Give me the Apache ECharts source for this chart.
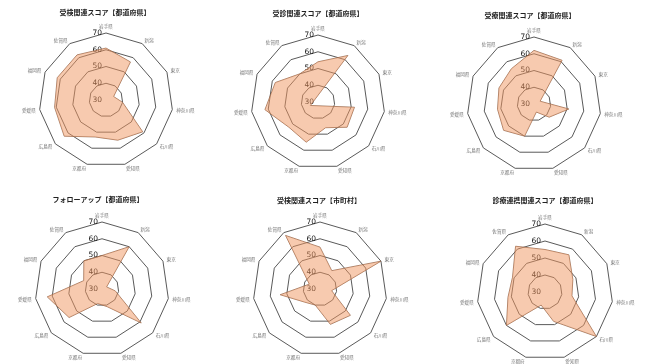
<!DOCTYPE html>
<html>
<head>
<meta charset="utf-8">
<script src="https://cdn.jsdelivr.net/npm/echarts@6/dist/echarts.min.js"></script>
<style>
  html, body { margin: 0; padding: 0; background: #fff; }
  #chart { width: 645px; height: 364px; }
</style>
</head>
<body>
<div id="chart"></div>
<script>
// Prefectures on each radar, clockwise from the top
const categories = ['岩手県', '新潟', '東京', '神奈川県', '石川県', '愛知県', '京都府', '広島県', '愛媛県', '福岡県', '佐賀県'];

// Radial scale shared by all panels
const scaleMin = 30;
const scaleMax = 70;

// Panel titles
const titles = [
  '受検関連スコア【都道府県】',
  '受診関連スコア【都道府県】',
  '受療関連スコア【都道府県】',
  'フォローアップ【都道府県】',
  '受検関連スコア【市町村】',
  '診療連携関連スコア【都道府県】'
];

// Scores per prefecture, one array per panel
const jukenPref    = [61, 57, 35, 40, 59, 55, 53, 63, 61, 62, 62];
const jushinPref   = [54, 63, 25, 52, 53, 46, 55, 53, 62, 58, 50];
const juryoPref    = [62, 61, 34, 51, 42, 35, 50, 54, 52, 53, 55];
const followPref   = [50, 60, 33, 38, 61, 41, 39, 56, 63, 42, 50];
const jukenCity    = [55, 43, 70, 37, 54, 52, 40, 42, 54, 37, 68];
const renkeiPref   = [55, 56, 48, 46, 70, 48, 38, 60, 52, 51, 62];

const panelData = [jukenPref, jushinPref, juryoPref, followPref, jukenCity, renkeiPref];

// ECharts lays radar indicators out counter-clockwise, so feed them
// in reverse (keeping the first one at the top) to read clockwise.
const order = categories.map((_, i) => (categories.length - i) % categories.length);

// Panel placement (radar centre, radius, title anchor)
const panels = [
  { c: [106, 100], r: 67, t: [105, 9] },
  { c: [318, 102], r: 67, t: [318, 10] },
  { c: [534, 104], r: 67, t: [530, 12] },
  { c: [102, 289], r: 67, t: [98, 196] },
  { c: [320, 289], r: 67, t: [319, 197] },
  { c: [545, 292], r: 68, t: [545, 197] }
];

const cjk = '"Noto Sans CJK JP", "Noto Sans", sans-serif';

const radars = panels.map(p => ({
  center: p.c,
  radius: p.r,
  startAngle: 90,
  shape: 'polygon',
  splitNumber: 4,
  indicator: order.map((k, i) => ({
    name: categories[k],
    min: scaleMin,
    max: scaleMax,
    axisLabel: { show: i === 0 }
  })),
  axisName: { color: '#777', fontSize: 4.6, fontFamily: cjk },
  nameGap: 4,
  axisLine: { show: false },
  axisTick: { show: false },
  axisLabel: { show: false, color: '#111', fontSize: 7.5, margin: 4, fontFamily: '"DejaVu Sans", sans-serif' },
  splitLine: { lineStyle: { color: '#5a5a5a', width: 1 } },
  splitArea: { show: false }
}));

const series = panelData.map((vals, i) => ({
  type: 'radar',
  radarIndex: i,
  symbol: 'none',
  silent: true,
  lineStyle: { color: '#8f6248', width: 0.8 },
  areaStyle: { color: 'rgb(240,150,95)', opacity: 0.5 },
  data: [{ value: order.map(k => vals[k]), name: titles[i] }]
}));

const titleOpts = panels.map((p, i) => ({
  text: titles[i],
  left: p.t[0],
  top: p.t[1],
  textAlign: 'center',
  padding: 0,
  textStyle: { fontSize: 7, fontWeight: 'bold', color: '#222', fontFamily: cjk }
}));

const chart = echarts.init(document.getElementById('chart'), null, { renderer: 'canvas' });
chart.setOption({
  backgroundColor: '#fff',
  animation: false,
  title: titleOpts,
  radar: radars,
  series: series
});
</script>
</body>
</html>
